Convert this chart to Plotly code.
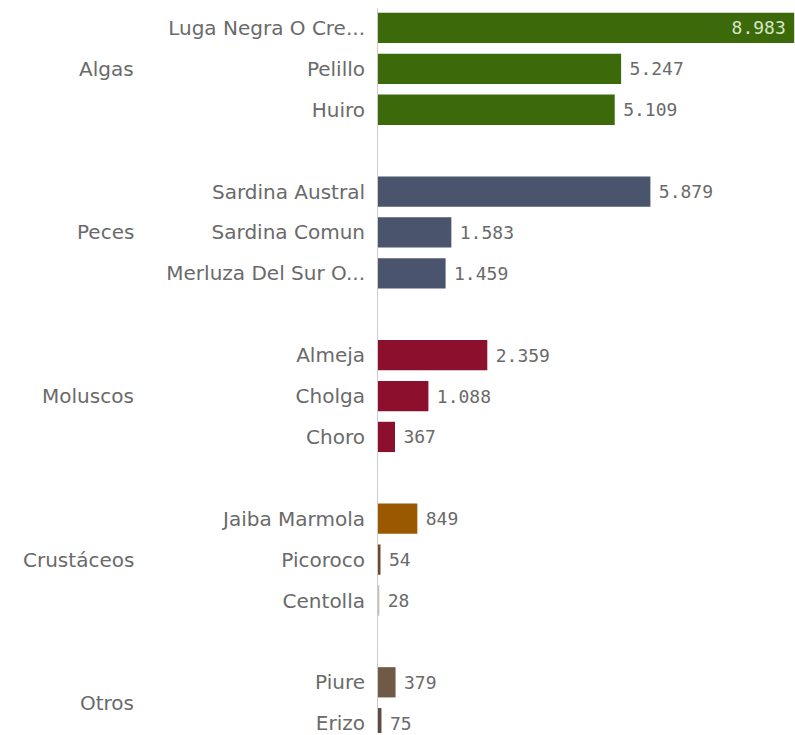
import plotly.graph_objects as go

groups = ["Algas", "Peces", "Moluscos", "Crustáceos", "Otros"]
items = [
    ["Luga Negra O Cre...", "Pelillo", "Huiro"],
    ["Sardina Austral", "Sardina Comun", "Merluza Del Sur O..."],
    ["Almeja", "Cholga", "Choro"],
    ["Jaiba Marmola", "Picoroco", "Centolla"],
    ["Piure", "Erizo"],
]
values = [
    [8983, 5247, 5109],
    [5879, 1583, 1459],
    [2359, 1088, 367],
    [849, 54, 28],
    [379, 75],
]
colors = [
    ["#3c6a0b", "#3c6a0b", "#3c6a0b"],
    ["#4a546c", "#4a546c", "#4a546c"],
    ["#8c0f2e", "#8c0f2e", "#8c0f2e"],
    ["#9a5800", "#6e4a2a", "#cbbcae"],
    ["#6f5a48", "#5e4d3e"],
]

ys, labels, xs, cols, tpos, tmpl = [], [], [], [], [], []
group_y = []
for gi, (names, vals, cs) in enumerate(zip(items, values, colors)):
    pos = []
    for ii, (n, v, c) in enumerate(zip(names, vals, cs)):
        y = gi * 4 + ii
        ys.append(y)
        pos.append(y)
        labels.append(n)
        xs.append(v)
        cols.append(c)
        inside = v > 8000
        tpos.append("inside" if inside else "outside")
        tmpl.append("%{x:,}<span style='font-size:9px'>\u00a0</span>" if inside
                    else "<span style='font-size:9px'>\u00a0</span>%{x:,}")
    group_y.append(sum(pos) / len(pos))

fig = go.Figure(go.Bar(
    x=xs, y=ys, orientation="h", width=0.74,
    marker=dict(color=cols, line=dict(width=0)),
    texttemplate=tmpl, textposition=tpos,
    insidetextanchor="end",
    insidetextfont=dict(family="DejaVu Sans Mono", size=18, color="#d6e6c4"),
    outsidetextfont=dict(family="DejaVu Sans Mono", size=18, color="#6a6a6a"),
    cliponaxis=False, hoverinfo="skip",
))

for g, gy in zip(groups, group_y):
    fig.add_annotation(x=-0.58, xref="paper", y=gy, yref="y", text=g,
                       showarrow=False, xanchor="right", yanchor="middle",
                       font=dict(family="DejaVu Sans", size=20, color="#6a6a6a"))

fig.update_layout(
    width=795, height=735,
    margin=dict(l=378, r=0, t=8, b=0),
    paper_bgcolor="white", plot_bgcolor="white",
    separators=",.",
    showlegend=False,
    hovermode=False,
    xaxis=dict(range=[0, 9000], visible=False, fixedrange=True),
    yaxis=dict(range=[17.24, -0.488], tickvals=ys, ticktext=labels,
               showline=True, linecolor="#cccccc", linewidth=1,
               showgrid=False, zeroline=False, ticklabeloverflow="allow",
               fixedrange=True,
               ticks="outside", ticklen=8, tickcolor="rgba(0,0,0,0)",
               tickfont=dict(family="DejaVu Sans", size=20, color="#6a6a6a")),
)

fig.write_html("out.html",
               config={"displayModeBar": False, "staticPlot": True},
               post_script="document.body.style.margin='0';document.body.style.overflow='hidden';")
